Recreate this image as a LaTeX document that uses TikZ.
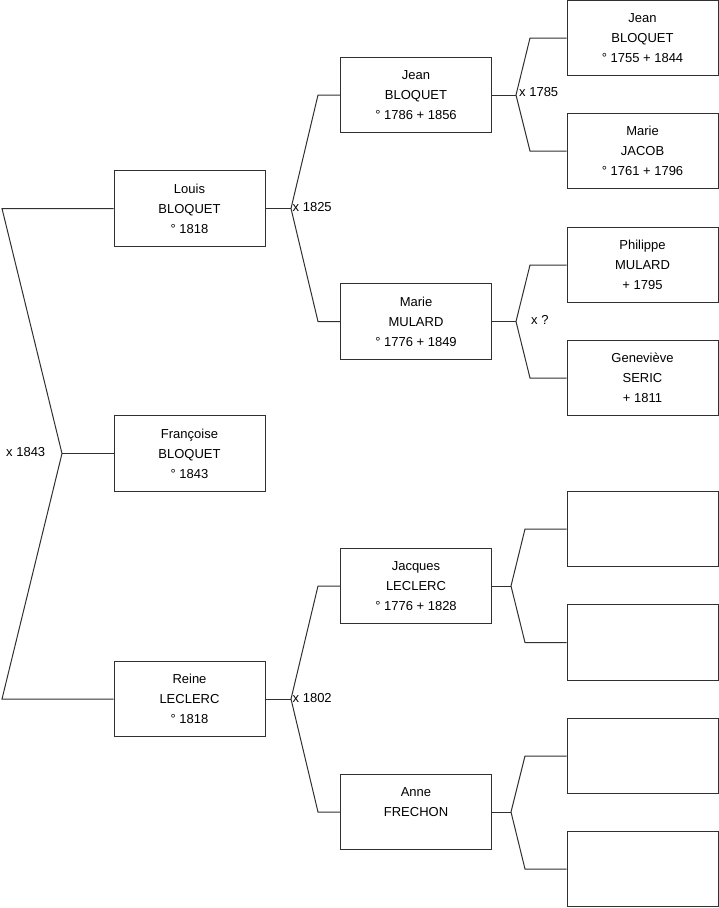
\documentclass[tikz,border=0pt]{standalone}
\usepackage{fontspec}
\setmainfont{Liberation Sans}
\definecolor{ln}{HTML}{303030}
\begin{document}
\begin{tikzpicture}[x=1pt,y=-1pt,
  person/.style={draw=ln,line width=1pt,rectangle,minimum width=151pt,minimum height=75.5pt,
    align=center,inner sep=0pt,font=\fontsize{13}{20}\selectfont},
  conn/.style={draw=ln,line width=1pt},
  lbl/.style={font=\fontsize{13}{15}\selectfont,inner sep=0pt}]
\useasboundingbox (0,0) rectangle (719,908);
% generation 1
\node[person] (louis) at (189.5,208.5) {Louis\\BLOQUET\\° 1818};
\node[person] (francoise) at (189.5,453.5) {Françoise\\BLOQUET\\° 1843};
\node[person] (reine) at (189.5,699) {Reine\\LECLERC\\° 1818};
% generation 2
\node[person] (jean) at (416,95) {Jean\\BLOQUET\\° 1786 + 1856};
\node[person] (marie) at (416,321.5) {Marie\\MULARD\\° 1776 + 1849};
\node[person] (jacques) at (416,586) {Jacques\\LECLERC\\° 1776 + 1828};
\node[person] (anne) at (416,812) {Anne\\FRECHON\\\phantom{° 1818}};
% generation 3
\node[person] (jeanb) at (642.5,38) {Jean\\BLOQUET\\° 1755 + 1844};
\node[person] (mariej) at (642.5,151) {Marie\\JACOB\\° 1761 + 1796};
\node[person] (philippe) at (642.5,265) {Philippe\\MULARD\\ + 1795};
\node[person] (genevieve) at (642.5,378) {Geneviève\\SERIC\\+ 1811};
\node[person] (e1) at (642.5,529) {};
\node[person] (e2) at (642.5,642.5) {};
\node[person] (e3) at (642.5,756) {};
\node[person] (e4) at (642.5,869) {};
% junction coordinates
\coordinate (a0) at (62,453.5);
\coordinate (a1) at (2,208.5);
\coordinate (a2) at (2,699);
\coordinate (b0) at (291,208.5);
\coordinate (b1) at (318,95);
\coordinate (b2) at (318,321.5);
\coordinate (c0) at (291,699);
\coordinate (c1) at (318,586);
\coordinate (c2) at (318,812);
\coordinate (d0) at (516,95);
\coordinate (d1) at (530,38);
\coordinate (d2) at (530,151);
\coordinate (f0) at (516,321.5);
\coordinate (f1) at (530,265);
\coordinate (f2) at (530,378);
\coordinate (g0) at (511,586);
\coordinate (g1) at (525,529);
\coordinate (g2) at (525,642.5);
\coordinate (h0) at (511,812);
\coordinate (h1) at (525,756);
\coordinate (h2) at (525,869);
% connectors
\draw[conn] (louis.west) -- (a1) -- (a0) -- (a2) -- (reine.west);
\draw[conn] (a0) -- (francoise.west);
\draw[conn] (louis.east) -- (b0);
\draw[conn] (jean.west) -- (b1) -- (b0) -- (b2) -- (marie.west);
\draw[conn] (reine.east) -- (c0);
\draw[conn] (jacques.west) -- (c1) -- (c0) -- (c2) -- (anne.west);
\draw[conn] (jean.east) -- (d0);
\draw[conn] (jeanb.west) -- (d1) -- (d0) -- (d2) -- (mariej.west);
\draw[conn] (marie.east) -- (f0);
\draw[conn] (philippe.west) -- (f1) -- (f0) -- (f2) -- (genevieve.west);
\draw[conn] (jacques.east) -- (g0);
\draw[conn] (e1.west) -- (g1) -- (g0) -- (g2) -- (e2.west);
\draw[conn] (anne.east) -- (h0);
\draw[conn] (e3.west) -- (h1) -- (h0) -- (h2) -- (e4.west);
% labels
\node[lbl,anchor=west] (l1843) at (6,452) {x 1843};
\node[lbl,anchor=west] (l1825) at (292.5,207) {x 1825};
\node[lbl,anchor=west] (l1802) at (292.5,698) {x 1802};
\node[lbl,anchor=west] (l1785) at (519,92) {x 1785};
\node[lbl,anchor=west] (lq) at (531,320) {x ?};
\end{tikzpicture}
\end{document}
